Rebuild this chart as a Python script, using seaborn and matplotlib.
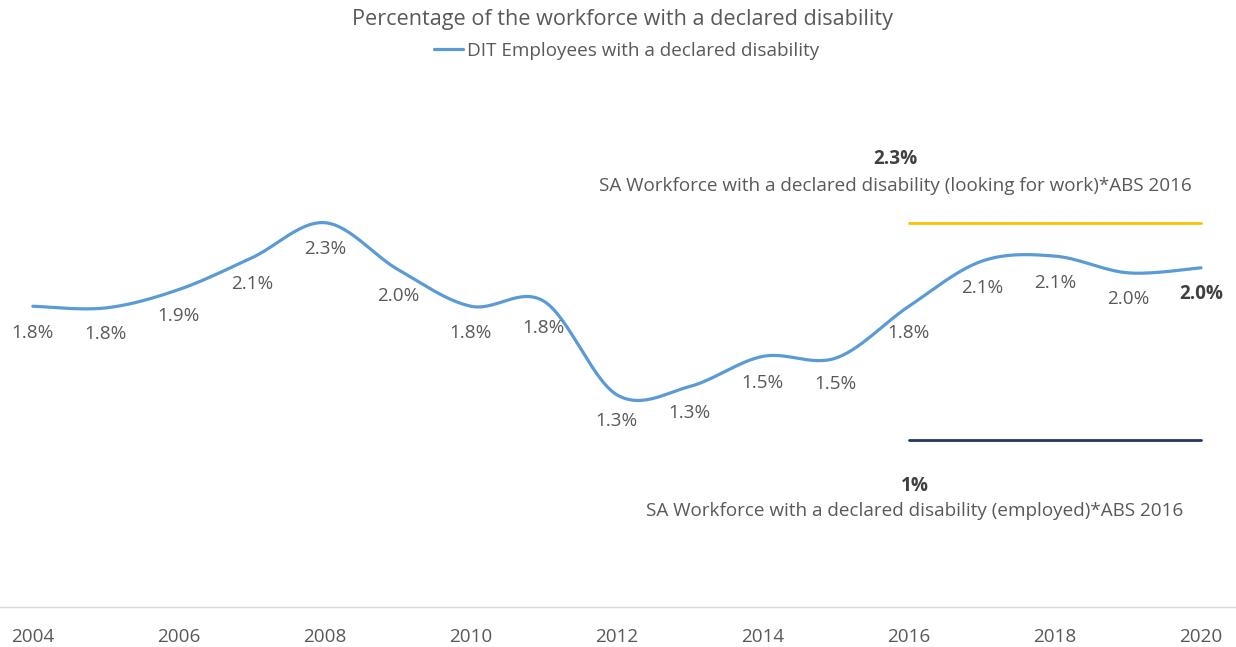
import numpy as np
import pandas as pd
import matplotlib
matplotlib.use("Agg")
import matplotlib.pyplot as plt
import seaborn as sns

years = [2004, 2005, 2006, 2007, 2008, 2009, 2010, 2011, 2012, 2013, 2014, 2015, 2016, 2017, 2018, 2019, 2020]
dit_values = [1.80, 1.79, 1.90, 2.09, 2.30, 2.02, 1.80, 1.83, 1.27, 1.32, 1.50, 1.49, 1.80, 2.07, 2.10, 2.00, 2.03]
dit_labels = ["1.8%", "1.8%", "1.9%", "2.1%", "2.3%", "2.0%", "1.8%", "1.8%", "1.3%", "1.3%", "1.5%", "1.5%", "1.8%", "2.1%", "2.1%", "2.0%", "2.0%"]
ref_years = [2016, 2020]
ref_looking = [2.3, 2.3]
ref_employed = [1.0, 1.0]
xtick_years = [2004, 2006, 2008, 2010, 2012, 2014, 2016, 2018, 2020]

title = "Percentage of the workforce with a declared disability"
series_name = "DIT Employees with a declared disability"
looking_value = "2.3%"
looking_text = "SA Workforce with a declared disability (looking for work)*ABS 2016"
employed_value = "1%"
employed_text = "SA Workforce with a declared disability (employed)*ABS 2016"

sns.set_theme(style="white")
plt.rcParams['font.family'] = ['Open Sans', 'DejaVu Sans']

GRAY = "#595959"
DARK = "#404040"
BLUE = "#5B9BD5"
FS = 13.6

fig = plt.figure(figsize=(12.36, 6.47), dpi=100)
ax = fig.add_axes([0, 40 / 647, 1, 528 / 647])


def smooth(xs, ys, n=30):
    # Excel-style smoothed line (cardinal Bezier through the data points)
    xs = np.asarray(xs, float)
    ys = np.asarray(ys, float)
    px, py = [], []
    for i in range(len(xs) - 1):
        x0, y0 = (xs[i - 1], ys[i - 1]) if i > 0 else (xs[i], ys[i])
        x1, y1 = xs[i], ys[i]
        x2, y2 = xs[i + 1], ys[i + 1]
        x3, y3 = (xs[i + 2], ys[i + 2]) if i + 2 < len(xs) else (xs[i + 1], ys[i + 1])
        c1x, c1y = x1 + (x2 - x0) / 6, y1 + (y2 - y0) / 6
        c2x, c2y = x2 - (x3 - x1) / 6, y2 - (y3 - y1) / 6
        t = np.linspace(0, 1, n, endpoint=(i == len(xs) - 2))
        b0, b1, b2, b3 = (1 - t) ** 3, 3 * t * (1 - t) ** 2, 3 * t ** 2 * (1 - t), t ** 3
        px.extend(b0 * x1 + b1 * c1x + b2 * c2x + b3 * x2)
        py.extend(b0 * y1 + b1 * c1y + b2 * c2y + b3 * y2)
    return np.array(px), np.array(py)


sx, sy = smooth(years, dit_values)
curve = pd.DataFrame({"year": sx, "value": sy, "series": series_name})
sns.lineplot(data=curve, x="year", y="value", hue="series", palette=[BLUE],
             sort=False, linewidth=2.3, ax=ax, legend=False)

sns.lineplot(x=ref_years, y=ref_looking, color="#FFC000", linewidth=2.0, ax=ax)
sns.lineplot(x=ref_years, y=ref_employed, color="#1F3864", linewidth=2.0, ax=ax)

for i, (x, y, lab) in enumerate(zip(years, dit_values, dit_labels)):
    last = i == len(years) - 1
    ax.annotate(lab, (x, y), xytext=(0, -19), textcoords="offset points",
                ha="center", va="center", fontsize=FS, color=DARK if last else GRAY,
                fontweight="bold" if last else "normal")

# reference line labels
ax.annotate(looking_value, (2016, ref_looking[0]), xytext=(-10, 46), textcoords="offset points",
            ha="center", va="center", fontsize=FS, color=DARK, fontweight="bold")
ax.annotate(looking_text, (2016, ref_looking[0]), xytext=(-10, 26.5), textcoords="offset points",
            ha="center", va="center", fontsize=FS, color=GRAY)
ax.annotate(employed_value, (2016, ref_employed[0]), xytext=(4, -33), textcoords="offset points",
            ha="center", va="center", fontsize=FS, color=DARK, fontweight="bold")
ax.annotate(employed_text, (2016, ref_employed[0]), xytext=(4, -51), textcoords="offset points",
            ha="center", va="center", fontsize=FS, color=GRAY)

ax.set_xlim(2003.55, 2020.48)
ax.set_ylim(0, 3.16)
ax.set_xticks(xtick_years)
ax.set_xticklabels([str(y) for y in xtick_years], fontsize=FS, color=GRAY)
ax.tick_params(axis="x", length=0, pad=15)
ax.set_yticks([])
ax.set_xlabel("")
ax.set_ylabel("")
for s in ["top", "left", "right"]:
    ax.spines[s].set_visible(False)
ax.spines["bottom"].set_color("#D9D9D9")
ax.spines["bottom"].set_linewidth(1.0)
ax.patch.set_alpha(0)

fig.text(0.504, 1 - 19 / 647, title, ha="center", va="center", fontsize=15.6, color=GRAY)
handle = plt.Line2D([], [], color=BLUE, linewidth=2.3)
fig.legend([handle], [series_name], loc="center", bbox_to_anchor=(0.507, 1 - 51 / 647),
           frameon=False, fontsize=FS, handlelength=1.5, handletextpad=0.2,
           labelcolor=GRAY)

fig.savefig("out.png", dpi=100, facecolor="white")
